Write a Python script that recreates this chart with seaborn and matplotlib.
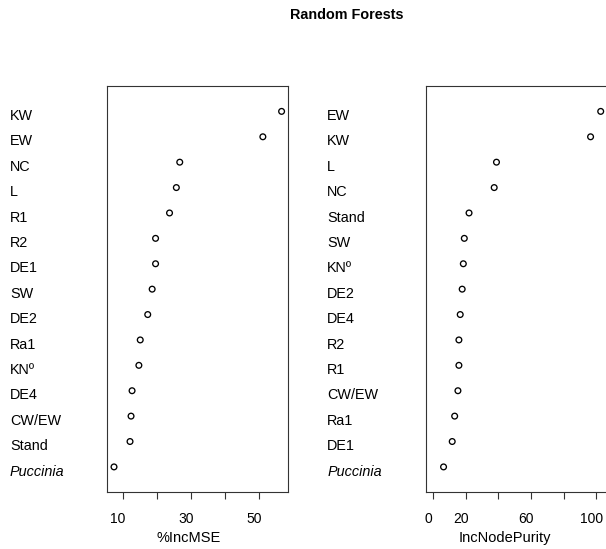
import matplotlib
matplotlib.use("Agg")
import matplotlib.pyplot as plt
import matplotlib.transforms as mtrans
import seaborn as sns
import pandas as pd

# variable importance values
mse_vars = ["KW", "EW", "NC", "L", "R1", "R2", "DE1", "SW", "DE2", "Ra1", "KNº", "DE4", "CW/EW", "Stand", "Puccinia"]
mse_vals = [56.6, 51.1, 26.7, 25.7, 23.7, 19.6, 19.6, 18.6, 17.3, 15.1, 14.7, 12.7, 12.4, 12.1, 7.4]
pur_vars = ["EW", "KW", "L", "NC", "Stand", "SW", "KNº", "DE2", "DE4", "R2", "R1", "CW/EW", "Ra1", "DE1", "Puccinia"]
pur_vals = [102.6, 96.4, 38.8, 37.4, 22.0, 19.1, 18.5, 17.8, 16.6, 15.8, 15.8, 15.2, 13.2, 11.7, 6.4]

mse_ticks = [10, 20, 30, 40, 50]
mse_ticklabels = ["10", "", "30", "", "50"]
pur_ticks = [0, 20, 40, 60, 80, 100]
pur_ticklabels = ["0", "20", "", "60", "", "100"]

sns.set_theme(style="white")
plt.rcParams['font.family'] = ['Liberation Sans', 'DejaVu Sans']
FS_LAB = 10.4
FS_TICK = 10
FS_XLAB = 10.5

W, H = 606, 549
fig = plt.figure(figsize=(W / 100, H / 100), dpi=100)


def panel(left_px, label_px, xlabel_px, vars_, vals, ticks, ticklabels, xlim, xlabel):
    ax = fig.add_axes([left_px / W, 1 - 492.3 / H, 181 / W, 406.3 / H])
    n = len(vars_)
    df = pd.DataFrame({"var": vars_, "val": vals, "pos": list(range(n, 0, -1))})
    sns.scatterplot(data=df, x="val", y="pos", ax=ax, marker="o", s=17,
                    facecolor="none", edgecolor="black", linewidth=0.95, legend=False)
    ax.set_xlim(*xlim)
    ax.set_ylim(0, n + 1)
    ax.set_yticks([])
    ax.set_xticks(ticks)
    ax.set_xticklabels(ticklabels, fontsize=FS_TICK, color="black")
    ax.tick_params(axis="x", direction="out", length=4.8, width=0.8, color="#333333",
                   pad=9.6, bottom=True)
    shift = mtrans.ScaledTranslation(-5 / 100, 0, fig.dpi_scale_trans)
    for t in ax.get_xticklabels():
        t.set_transform(t.get_transform() + shift)
    ax.set_xlabel("")
    ax.set_ylabel("")
    for sp in ax.spines.values():
        sp.set_color("#333333")
        sp.set_linewidth(0.8)
        sp.set_visible(True)
    tr = mtrans.blended_transform_factory(fig.transFigure, ax.transData)
    for name, p in zip(df["var"], df["pos"]):
        style = "italic" if name == "Puccinia" else "normal"
        fig.text(label_px / W, p - 0.34, name, transform=tr, ha="left", va="baseline",
                 fontsize=FS_LAB, fontstyle=style, color="black")
    fig.text(xlabel_px / W, 1 - 542 / H, xlabel, ha="center", va="baseline",
             fontsize=FS_XLAB, color="black")
    return ax


panel(107.3, 10, 188.3, mse_vars, mse_vals, mse_ticks, mse_ticklabels, (5.43, 58.57), "%IncMSE")
panel(426.4, 327.3, 505.2, pur_vars, pur_vals, pur_ticks, pur_ticklabels, (-4.1, 106.7), "IncNodePurity")

fig.text(346.7 / W, 1 - 19.3 / H, "Random Forests", ha="center", va="baseline",
         fontsize=10.4, fontweight="bold", color="black")

fig.savefig("out.png", dpi=100)
